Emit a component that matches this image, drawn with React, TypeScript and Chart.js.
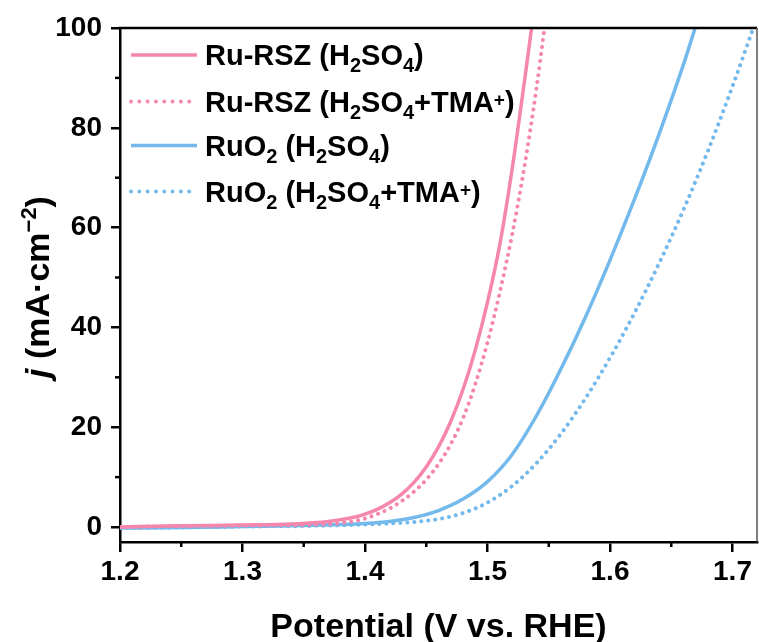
import React, { useEffect, useRef } from "react";
import { Chart, registerables } from "chart.js";

Chart.register(...registerables);

// ---- Data (potential V vs RHE, current density mA/cm2) ----
const ruRszV = [1.2, 1.25, 1.3, 1.34, 1.37, 1.39, 1.4, 1.41, 1.42, 1.43, 1.44, 1.45, 1.46, 1.47, 1.48, 1.49, 1.5, 1.51, 1.52, 1.53, 1.536];
const ruRszJ = [0.0, 0.25, 0.4, 0.6, 1.1, 1.9, 2.6, 3.55, 4.85, 6.6, 8.95, 12.05, 16.05, 21.15, 27.55, 35.45, 45.05, 56.55, 71.55, 89.05, 100];

const ruRszTmaV = [1.2, 1.25, 1.3, 1.35, 1.38, 1.4, 1.41, 1.42, 1.43, 1.44, 1.45, 1.46, 1.47, 1.48, 1.49, 1.5, 1.51, 1.52, 1.53, 1.54, 1.5465];
const ruRszTmaJ = [0.0, 0.2, 0.3, 0.45, 0.8, 1.7, 2.6, 3.7, 5.2, 7.1, 9.5, 12.6, 16.6, 21.8, 28.6, 37.0, 47.0, 58.5, 72.0, 88.0, 100];

const ruo2V = [1.2, 1.25, 1.3, 1.35, 1.38, 1.4, 1.42, 1.44, 1.46, 1.48, 1.5, 1.52, 1.54, 1.56, 1.58, 1.6, 1.62, 1.64, 1.66, 1.6695];
const ruo2J = [-0.2, -0.1, 0.1, 0.3, 0.5, 0.7, 1.1, 1.9, 3.3, 5.6, 9.1, 14.5, 22.3, 31.7, 42.1, 53.5, 65.7, 78.7, 92.7, 100];

const ruo2TmaV = [1.2, 1.25, 1.3, 1.35, 1.4, 1.42, 1.44, 1.46, 1.48, 1.5, 1.52, 1.54, 1.56, 1.58, 1.6, 1.62, 1.64, 1.66, 1.68, 1.7, 1.717];
const ruo2TmaJ = [-0.2, -0.1, 0.1, 0.2, 0.5, 0.7, 1.0, 1.6, 2.8, 4.9, 8.2, 12.8, 18.7, 25.8, 33.9, 42.9, 52.8, 63.6, 75.4, 88.3, 100];

const xMinorTicks = [1.25, 1.35, 1.45, 1.55, 1.65];
const yMinorTicks = [10, 30, 50, 70, 90];

type Part = { t: string; k?: "sub" | "sup" };
const seriesLabels: Part[][] = [
  [{ t: "Ru-RSZ (H" }, { t: "2", k: "sub" }, { t: "SO" }, { t: "4", k: "sub" }, { t: ")" }],
  [{ t: "Ru-RSZ (H" }, { t: "2", k: "sub" }, { t: "SO" }, { t: "4", k: "sub" }, { t: "+TMA" }, { t: "+", k: "sup" }, { t: ")" }],
  [{ t: "RuO" }, { t: "2", k: "sub" }, { t: " (H" }, { t: "2", k: "sub" }, { t: "SO" }, { t: "4", k: "sub" }, { t: ")" }],
  [{ t: "RuO" }, { t: "2", k: "sub" }, { t: " (H" }, { t: "2", k: "sub" }, { t: "SO" }, { t: "4", k: "sub" }, { t: "+TMA" }, { t: "+", k: "sup" }, { t: ")" }],
];

const PINK = "rgb(245,134,172)";
const BLUE = "rgb(116,185,236)";
const FAM = "'Liberation Sans', Arial, sans-serif";
const DOT = [0.01, 7];

const seriesColors = [PINK, PINK, BLUE, BLUE];
const seriesDotted = [false, true, false, true];

function toPts(v: number[], j: number[]) {
  return v.map((x, i) => ({ x, y: j[i] }));
}

const decor = {
  id: "decor",
  afterDraw(chart: any) {
    const { ctx, chartArea: a, scales } = chart;
    const x = scales.x;
    const y = scales.y;
    ctx.save();
    // top and right frame
    ctx.strokeStyle = "#000";
    ctx.lineWidth = 2.5;
    ctx.beginPath();
    ctx.moveTo(a.left - 1.25, a.top);
    ctx.lineTo(a.right, a.top);
    ctx.stroke();
    ctx.strokeStyle = "#555";
    ctx.lineWidth = 1.5;
    ctx.beginPath();
    ctx.moveTo(a.right, a.top);
    ctx.lineTo(a.right, a.bottom);
    ctx.stroke();
    // minor ticks
    ctx.strokeStyle = "#000";
    ctx.lineWidth = 2.5;
    for (const v of xMinorTicks) {
      const px = x.getPixelForValue(v);
      ctx.beginPath();
      ctx.moveTo(px, a.bottom);
      ctx.lineTo(px, a.bottom + 5);
      ctx.stroke();
    }
    for (const v of yMinorTicks) {
      const py = y.getPixelForValue(v);
      ctx.beginPath();
      ctx.moveTo(a.left - 5, py);
      ctx.lineTo(a.left, py);
      ctx.stroke();
    }

    // legend
    const rowY = [55, 101.5, 145.5, 191.5];
    seriesLabels.forEach((parts, i) => {
      const ly = rowY[i];
      ctx.save();
      ctx.strokeStyle = seriesColors[i];
      ctx.lineWidth = seriesDotted[i] ? 4 : 3.5;
      ctx.lineCap = seriesDotted[i] ? "round" : "butt";
      ctx.setLineDash(seriesDotted[i] ? [0.01, 8.3] : []);
      ctx.beginPath();
      ctx.moveTo(131, ly);
      ctx.lineTo(197, ly);
      ctx.stroke();
      ctx.restore();
      let tx = 205;
      const base = ly + 10;
      ctx.fillStyle = "#000";
      ctx.textBaseline = "alphabetic";
      ctx.textAlign = "left";
      for (const p of parts) {
        let dy = 0;
        if (p.k === "sub") {
          ctx.font = `bold 20px ${FAM}`;
          dy = 7;
        } else if (p.k === "sup") {
          ctx.font = `bold 19px ${FAM}`;
          dy = -6;
        } else {
          ctx.font = `bold 29px ${FAM}`;
        }
        ctx.fillText(p.t, tx, base + dy);
        tx += ctx.measureText(p.t).width;
      }
    });

    // x title
    ctx.fillStyle = "#000";
    ctx.font = `bold 34px ${FAM}`;
    ctx.textAlign = "center";
    ctx.textBaseline = "alphabetic";
    ctx.fillText("Potential (V vs. RHE)", (a.left + a.right) / 2, 637);

    // y title (rotated)
    const yParts = [
      { t: "j", f: `italic bold 34px ${FAM}`, dy: 0 },
      { t: " (mA·cm", f: `bold 34px ${FAM}`, dy: 0 },
      { t: "−2", f: `bold 22px ${FAM}`, dy: -13 },
      { t: ")", f: `bold 34px ${FAM}`, dy: 0 },
    ];
    let total = 0;
    for (const p of yParts) {
      ctx.font = p.f;
      total += ctx.measureText(p.t).width;
    }
    ctx.save();
    ctx.translate(49, (a.top + a.bottom) / 2 + 2);
    ctx.rotate(-Math.PI / 2);
    ctx.textAlign = "left";
    let cx = -total / 2;
    for (const p of yParts) {
      ctx.font = p.f;
      ctx.fillText(p.t, cx, p.dy);
      cx += ctx.measureText(p.t).width;
    }
    ctx.restore();
    ctx.restore();
  },
};

export default function App() {
  const ref = useRef<HTMLCanvasElement | null>(null);
  useEffect(() => {
    if (!ref.current) return;
    const mk = (v: number[], j: number[], i: number) => ({
      data: toPts(v, j),
      borderColor: seriesColors[i],
      backgroundColor: seriesColors[i],
      borderWidth: seriesDotted[i] ? 4 : 3.5,
      borderDash: seriesDotted[i] ? DOT : [],
      borderCapStyle: seriesDotted[i] ? "round" : "butt",
      pointRadius: 0,
      fill: false,
      cubicInterpolationMode: "monotone",
    });
    const chart = new Chart(ref.current, {
      type: "line",
      data: {
        datasets: [
          mk(ruRszV, ruRszJ, 0),
          mk(ruRszTmaV, ruRszTmaJ, 1),
          mk(ruo2V, ruo2J, 2),
          mk(ruo2TmaV, ruo2TmaJ, 3),
        ] as any,
      },
      options: {
        responsive: false,
        animation: false,
        events: [],
        layout: { padding: { top: 28, right: 2, left: 0, bottom: 0 } },
        plugins: { legend: { display: false }, tooltip: { enabled: false } },
        scales: {
          x: {
            type: "linear",
            min: 1.2,
            max: 1.72,
            afterFit: (s: any) => {
              s.height = 100;
            },
            ticks: {
              stepSize: 0.1,
              includeBounds: false,
              padding: 3,
              color: "#000",
              font: { family: FAM, weight: "bold", size: 28 },
              callback: (v: any) => Number(v).toFixed(1),
              maxRotation: 0,
              autoSkip: false,
            },
            grid: { display: true, drawOnChartArea: false, drawTicks: true, tickLength: 10, lineWidth: 2.5, color: "#000" },
            border: { display: true, width: 2.5, color: "#000" },
          },
          y: {
            type: "linear",
            min: -3,
            max: 100,
            afterFit: (s: any) => {
              s.width = 120;
            },
            ticks: {
              stepSize: 20,
              includeBounds: false,
              padding: 9,
              color: "#000",
              font: { family: FAM, weight: "bold", size: 28 },
              autoSkip: false,
            },
            grid: { display: true, drawOnChartArea: false, drawTicks: true, tickLength: 9, lineWidth: 2.5, color: "#000" },
            border: { display: true, width: 2.5, color: "#000" },
          },
        },
      } as any,
      plugins: [decor],
    });
    return () => chart.destroy();
  }, []);
  return (
    <div style={{ position: "absolute", left: 0, top: 0, width: 759, height: 642, background: "#fff" }}>
      <canvas ref={ref} width={759} height={642} style={{ display: "block" }} />
    </div>
  );
}
